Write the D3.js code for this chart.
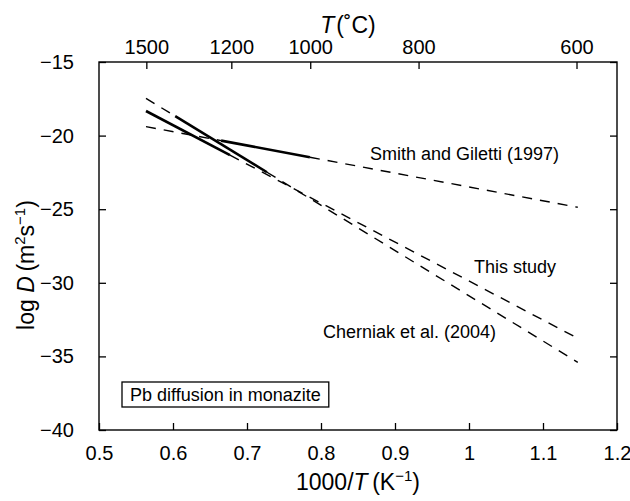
<!DOCTYPE html>
<html>
<head>
<meta charset="utf-8">
<script src="https://cdn.jsdelivr.net/npm/d3@7/dist/d3.min.js"></script>
<style>
  body { margin: 0; background: #fff; }
  svg text { font-family: "Liberation Sans", Arial, Helvetica, sans-serif; fill: #000; }
</style>
</head>
<body>
<svg id="chart" width="630" height="501"></svg>
<script>
// ---- data ----
const xTicks = [0.5, 0.6, 0.7, 0.8, 0.9, 1.0, 1.1, 1.2];
const yTicks = [-15, -20, -25, -30, -35, -40];
const tempTicks = [1500, 1200, 1000, 800, 600];

// this study
const thisStudySolid  = [[0.5635, -18.33], [0.677, -21.33]];
const thisStudyDashed = [[0.677, -21.33], [1.147, -33.77]];
// Cherniak et al. (2004)
const cherniakDashedHigh = [[0.5635, -17.47], [0.603, -18.68]];
const cherniakSolid      = [[0.603, -18.68], [0.727, -22.49]];
const cherniakDashedLow  = [[0.727, -22.49], [1.147, -35.40]];
// Smith and Giletti (1997)
const smithDashedHigh = [[0.5635, -19.39], [0.665, -20.34]];
const smithSolid      = [[0.665, -20.34], [0.785, -21.47]];
const smithDashedLow  = [[0.785, -21.47], [1.147, -24.87]];

// ---- layout ----
const svg = d3.select("#chart");
const L = 99, R = 617, T = 62, B = 430;
const x = d3.scaleLinear().domain([0.5, 1.2]).range([L, R]);
const y = d3.scaleLinear().domain([-40, -15]).range([B, T]);
const FS = 18, TFS = 20, AFS = 23;

// frame
svg.append("rect").attr("x", L).attr("y", T).attr("width", R - L).attr("height", B - T)
  .attr("fill", "none").attr("stroke", "#000").attr("stroke-width", 1.4);

function styleAxis(g) {
  g.select(".domain").remove();
  g.selectAll(".tick line").attr("stroke", "#000").attr("stroke-width", 1.3);
  g.selectAll(".tick text").attr("font-size", TFS).attr("font-family", "Liberation Sans, Arial, sans-serif");
}

svg.append("g").attr("transform", `translate(0,${B})`)
  .call(d3.axisBottom(x).tickValues(xTicks).tickSizeInner(-7).tickSizeOuter(0).tickPadding(16)
    .tickFormat(d => String(d)))
  .call(styleAxis);

svg.append("g").attr("transform", `translate(${L},0)`)
  .call(d3.axisLeft(y).tickValues(yTicks).tickSizeInner(-7).tickSizeOuter(0).tickPadding(25)
    .tickFormat(d => "\u2212" + Math.abs(d)))
  .call(styleAxis);

svg.append("g").attr("transform", `translate(${R},0)`)
  .call(d3.axisRight(y).tickValues(yTicks).tickSizeInner(-7).tickSizeOuter(0).tickFormat(""))
  .call(styleAxis);

svg.append("g").attr("transform", `translate(0,${T})`)
  .call(d3.axisTop(x).tickValues(tempTicks.map(t => 1000 / (t + 273.15)))
    .tickSizeInner(-7).tickSizeOuter(0).tickPadding(8)
    .tickFormat((d, i) => tempTicks[i]))
  .call(styleAxis);

// lines
const line = d3.line().x(d => x(d[0])).y(d => y(d[1]));
const solids = [thisStudySolid, cherniakSolid, smithSolid];
const dashes = [thisStudyDashed, cherniakDashedHigh, cherniakDashedLow, smithDashedHigh, smithDashedLow];
svg.selectAll("path.dash").data(dashes).join("path").attr("class", "dash")
  .attr("d", line).attr("fill", "none").attr("stroke", "#000")
  .attr("stroke-width", 1.4).attr("stroke-dasharray", "10,8");
svg.selectAll("path.solid").data(solids).join("path").attr("class", "solid")
  .attr("d", line).attr("fill", "none").attr("stroke", "#000")
  .attr("stroke-width", 2.6);

// labels
svg.append("text").attr("x", 370).attr("y", 160).attr("font-size", FS).text("Smith and Giletti (1997)");
svg.append("text").attr("x", 474).attr("y", 273).attr("font-size", FS).text("This study");
svg.append("text").attr("x", 323).attr("y", 338).attr("font-size", FS).text("Cherniak et al. (2004)");

// box
const boxG = svg.append("g");
const boxRect = boxG.append("rect");
const boxText = boxG.append("text").attr("x", 130).attr("y", 400.5).attr("font-size", FS)
  .text("Pb diffusion in monazite");
const bb = boxText.node().getBBox();
boxRect.attr("x", 122).attr("y", 382).attr("width", bb.width + 16).attr("height", 25)
  .attr("fill", "#fff").attr("stroke", "#000").attr("stroke-width", 1.3);

// axis titles
const xt = svg.append("text").attr("x", 358).attr("y", 490).attr("text-anchor", "middle").attr("font-size", AFS);
xt.append("tspan").text("1000/");
xt.append("tspan").attr("font-style", "italic").text("T");
xt.append("tspan").text("\u2009(K");
xt.append("tspan").attr("font-size", 15).attr("dy", -9).text("\u22121");
xt.append("tspan").attr("dy", 9).text(")");

const tt = svg.append("text").attr("x", 348).attr("y", 33).attr("text-anchor", "middle").attr("font-size", AFS);
tt.append("tspan").attr("font-style", "italic").text("T");
tt.append("tspan").text("\u200a(\u02daC)");

const yt = svg.append("text").attr("transform", "translate(34,265) rotate(-90)")
  .attr("text-anchor", "middle").attr("font-size", AFS);
yt.append("tspan").text("log ");
yt.append("tspan").attr("font-style", "italic").text("D");
yt.append("tspan").text("\u2009(m");
yt.append("tspan").attr("font-size", 15).attr("dy", -9).text("2");
yt.append("tspan").attr("dy", 9).text("s");
yt.append("tspan").attr("font-size", 15).attr("dy", -9).text("\u22121");
yt.append("tspan").attr("dy", 9).text(")");
</script>
</body>
</html>
